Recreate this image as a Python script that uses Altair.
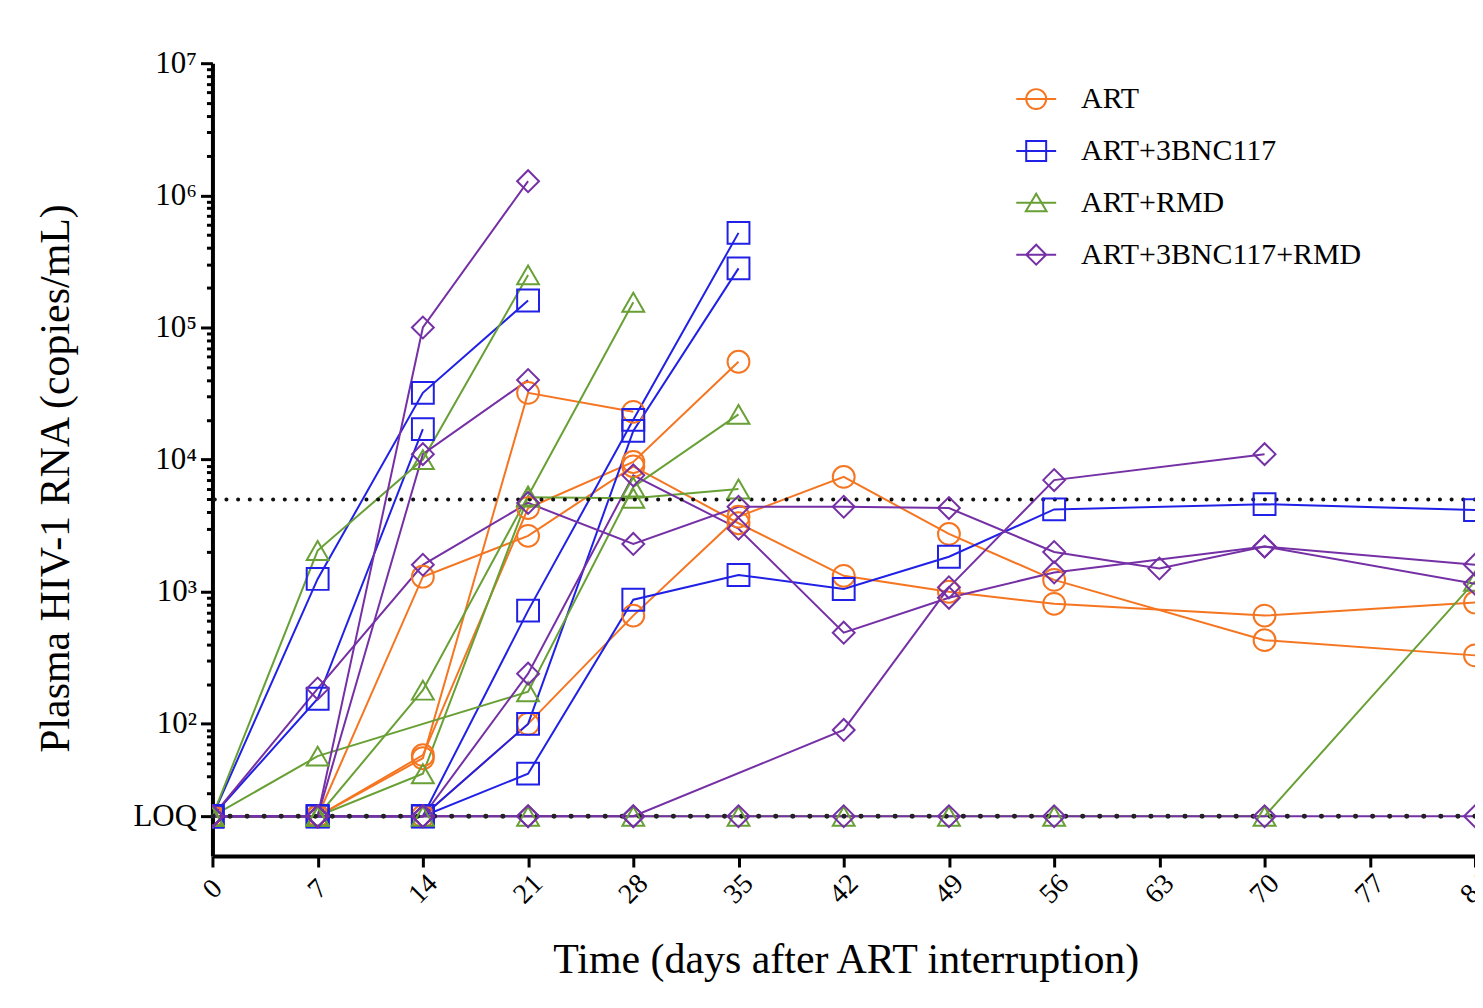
import altair as alt
import pandas as pd

# ---------------- values ----------------
LOQ = 20
THRESHOLD = 5000

GROUPS = ["ART", "ART+3BNC117", "ART+RMD", "ART+3BNC117+RMD"]
COLORS = ["#F57520", "#2020E6", "#68A035", "#7530A5"]
SHAPES = ["circle", "square", "triangle-up", "diamond"]
LEGEND_SHAPES = [
    "M-1,0L1,0M-0.5,0A0.5,0.5,0,1,1,0.5,0A0.5,0.5,0,1,1,-0.5,0",
    "M-1,0L1,0M-0.5,-0.5L0.5,-0.5L0.5,0.5L-0.5,0.5Z",
    "M-1,0L1,0M0,-0.46L-0.52,0.42L0.52,0.42Z",
    "M-1,0L1,0M-0.5,0L0,-0.5L0.5,0L0,0.5Z",
]

X_TICKS = [0, 7, 14, 21, 28, 35, 42, 49, 56, 63, 70, 77, 84]
Y_MAJOR = [20, 100, 1000, 10000, 100000, 1000000, 10000000]
Y_LABELS = ["LOQ", "10²", "10³", "10⁴", "10⁵", "10⁶", "10⁷"]
Y_MINOR = [30, 40, 50, 60, 70, 80, 90,
           200, 300, 400, 500, 600, 700, 800, 900,
           2000, 3000, 4000, 5000, 6000, 7000, 8000, 9000,
           20000, 30000, 40000, 50000, 60000, 70000, 80000, 90000,
           200000, 300000, 400000, 500000, 600000, 700000, 800000, 900000,
           2000000, 3000000, 4000000, 5000000, 6000000, 7000000, 8000000, 9000000]

# ART
art1_days = [0, 7, 14, 21, 28]
art1_vals = [20, 20, 55, 32000, 23000]
art2_days = [0, 7, 14, 21, 28, 35]
art2_vals = [20, 20, 58, 4300, 9600, 55000]
art3_days = [0, 7, 14, 21, 28, 35, 42, 49, 56, 70, 84]
art3_vals = [20, 20, 1300, 2650, 8900, 3300, 1320, 1000, 810, 660, 830]
art4_days = [0, 7, 14, 21, 28, 35, 42, 49, 56, 70, 84]
art4_vals = [20, 20, 20, 100, 660, 3700, 7400, 2740, 1230, 430, 330]

# ART+3BNC117
bnc1_days = [0, 7, 14, 21]
bnc1_vals = [20, 1250, 32000, 160000]
bnc2_days = [0, 7, 14]
bnc2_vals = [20, 155, 17000]
bnc3_days = [0, 7, 14, 21, 28, 35]
bnc3_vals = [20, 20, 20, 720, 20000, 520000]
bnc4_days = [0, 7, 14, 21, 28, 35]
bnc4_vals = [20, 20, 20, 100, 16500, 280000]
bnc5_days = [0, 7, 14, 21, 28, 35, 42, 49, 56, 70, 84]
bnc5_vals = [20, 20, 20, 42, 870, 1340, 1050, 1840, 4200, 4600, 4150]

# ART+RMD
rmd1_days = [0, 7, 14, 21]
rmd1_vals = [20, 2050, 10000, 250000]
rmd2_days = [0, 7, 21, 28, 35]
rmd2_vals = [20, 57, 175, 6200, 22000]
rmd3_days = [0, 7, 14, 21, 28]
rmd3_vals = [20, 20, 180, 5300, 155000]
rmd4_days = [0, 7, 14, 21, 28, 35]
rmd4_vals = [20, 20, 42, 5200, 5100, 6000]
rmd5_days = [0, 7, 14, 21, 28, 35, 42, 49, 56, 70, 84]
rmd5_vals = [20, 20, 20, 20, 20, 20, 20, 20, 20, 20, 1200]

# ART+3BNC117+RMD
trip1_days = [0, 7, 14, 21]
trip1_vals = [20, 20, 100000, 1280000]
trip2_days = [0, 7, 14, 21, 28, 35, 42, 49, 56, 63, 70, 84]
trip2_vals = [20, 185, 1600, 4700, 2300, 4400, 4400, 4300, 2000, 1500, 2200, 1600]
trip3_days = [0, 7, 14, 21]
trip3_vals = [20, 20, 11000, 40000]
trip4_days = [0, 7, 14, 21, 28, 35, 42, 49, 56, 70, 84]
trip4_vals = [20, 20, 20, 240, 7600, 3000, 490, 900, 1400, 2200, 1150]
trip5_days = [0, 7, 14, 21, 28, 42, 49, 56, 70]
trip5_vals = [20, 20, 20, 20, 20, 90, 1080, 7000, 11000]
trip6_days = [0, 7, 14, 21, 28, 35, 42, 49, 56, 70, 84]
trip6_vals = [20, 20, 20, 20, 20, 20, 20, 20, 20, 20, 20]

subjects = [
    ("ART-1", "ART", art1_days, art1_vals),
    ("ART-2", "ART", art2_days, art2_vals),
    ("ART-3", "ART", art3_days, art3_vals),
    ("ART-4", "ART", art4_days, art4_vals),
    ("BNC-1", "ART+3BNC117", bnc1_days, bnc1_vals),
    ("BNC-2", "ART+3BNC117", bnc2_days, bnc2_vals),
    ("BNC-3", "ART+3BNC117", bnc3_days, bnc3_vals),
    ("BNC-4", "ART+3BNC117", bnc4_days, bnc4_vals),
    ("BNC-5", "ART+3BNC117", bnc5_days, bnc5_vals),
    ("RMD-1", "ART+RMD", rmd1_days, rmd1_vals),
    ("RMD-2", "ART+RMD", rmd2_days, rmd2_vals),
    ("RMD-3", "ART+RMD", rmd3_days, rmd3_vals),
    ("RMD-4", "ART+RMD", rmd4_days, rmd4_vals),
    ("RMD-5", "ART+RMD", rmd5_days, rmd5_vals),
    ("TRI-1", "ART+3BNC117+RMD", trip1_days, trip1_vals),
    ("TRI-2", "ART+3BNC117+RMD", trip2_days, trip2_vals),
    ("TRI-3", "ART+3BNC117+RMD", trip3_days, trip3_vals),
    ("TRI-4", "ART+3BNC117+RMD", trip4_days, trip4_vals),
    ("TRI-5", "ART+3BNC117+RMD", trip5_days, trip5_vals),
    ("TRI-6", "ART+3BNC117+RMD", trip6_days, trip6_vals),
]

rows = []
for sid, grp, days, vals in subjects:
    for d, v in zip(days, vals):
        rows.append({"subject": sid, "group": grp, "day": d, "rna": v})
df = pd.DataFrame(rows)

# ---------------- chart ----------------
FONT = "Liberation Serif"

label_expr = " : ".join(
    f"datum.value == {v} ? '{t}'" for v, t in zip(Y_MAJOR, Y_LABELS)
) + " : ''"
major_test = "indexof([" + ",".join(str(v) for v in Y_MAJOR) + "], datum.value) >= 0"

x_scale = alt.Scale(domain=[0, 84], nice=False, zero=False)
y_scale = alt.Scale(type="log", domain=[10, 10000000], nice=False)
color_scale = alt.Scale(domain=GROUPS, range=COLORS)

x_axis = alt.Axis(
    values=X_TICKS, labelAngle=315, labelAlign="center", labelBaseline="middle",
    labelPadding=22, labelFontSize=28, labelFlush=False, labelOverlap=False,
    tickSize=11, tickWidth=3, tickColor="black", domainWidth=4, domainColor="black",
    grid=False, labelColor="black",
    title="Time (days after ART interruption)", titleFontSize=42,
    titleFontWeight="normal", titleColor="black", titleX=635, titleY=117,
    titleAlign="center", titleBaseline="alphabetic",
)
y_axis = alt.Axis(
    values=Y_MAJOR + Y_MINOR, labelExpr=label_expr, labelFontSize=31,
    labelPadding=4, labelOverlap=False, labelFlush=False, labelColor="black",
    tickSize={"condition": {"test": major_test, "value": 12}, "value": 6},
    tickWidth=3, tickColor="black", domainWidth=4, domainColor="black", grid=False,
    title="Plasma HIV-1 RNA (copies/mL)", titleFontSize=42, titleFontWeight="normal",
    titleColor="black", titleAngle=270, titleX=-144, titleY=416,
    titleAlign="center", titleBaseline="alphabetic",
)

X_ENC = alt.X("day:Q", scale=x_scale, axis=x_axis)
Y_ENC = alt.Y("rna:Q", scale=y_scale, axis=y_axis)

base = alt.Chart(df)

lines = base.mark_line(strokeWidth=2, clip=True).encode(
    x=X_ENC,
    y=Y_ENC,
    color=alt.Color("group:N", scale=color_scale, legend=None),
    detail="subject:N",
    order="day:Q",
)

loq_rule = alt.Chart(pd.DataFrame({"rna": [LOQ]})).mark_rule(
    color="#222222", strokeWidth=5, strokeDash=[0.1, 17], strokeCap="round"
).encode(y=Y_ENC)

thr_rule = alt.Chart(pd.DataFrame({"rna": [THRESHOLD]})).mark_rule(
    color="#111111", strokeWidth=4, strokeDash=[0.1, 11.6], strokeCap="round"
).encode(y=Y_ENC)

points = base.mark_point(filled=False, size=480, strokeWidth=2, opacity=1, clip=True).encode(
    x=X_ENC,
    y=Y_ENC,
    color=alt.Color("group:N", scale=color_scale, legend=None),
    shape=alt.Shape("group:N", scale=alt.Scale(domain=GROUPS, range=SHAPES), legend=None),
)

legend_def = alt.Legend(
    orient="none", legendX=805, legendY=15, title=None, direction="vertical",
    labelFontSize=30, labelFont=FONT, labelColor="black", labelOffset=24,
    labelLimit=0, rowPadding=16, symbolSize=1600, symbolStrokeWidth=2, padding=0,
)
legend_layer = base.transform_filter("datum.day < 0").mark_point(
    filled=False, size=1600, strokeWidth=2, opacity=1
).encode(
    x=X_ENC,
    y=Y_ENC,
    color=alt.Color("group:N", scale=color_scale, legend=legend_def),
    shape=alt.Shape("group:N", scale=alt.Scale(domain=GROUPS, range=LEGEND_SHAPES),
                    legend=legend_def),
)

chart = alt.layer(lines, loq_rule, thr_rule, points, legend_layer).resolve_scale(
    color="independent", shape="independent"
).properties(
    width=1266, height=795,
    autosize=alt.AutoSizeParams(type="none"),
    padding={"left": 205, "top": 54, "right": 0, "bottom": 140},
    background="white",
).configure(font=FONT).configure_view(stroke=None)

chart.save("out.html", embed_options={"renderer": "svg", "actions": False})
